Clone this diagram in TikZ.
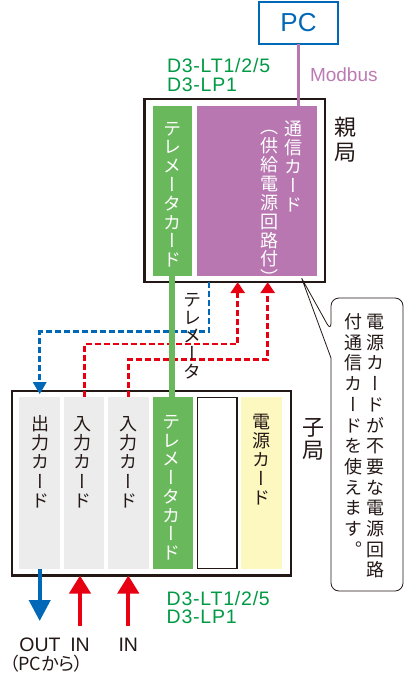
\documentclass[tikz,border=0pt]{standalone}
\usepackage{fontspec}
\setmainfont{Liberation Sans}
\newfontfamily\cjk[RawFeature=+palt]{Noto Sans CJK JP}
\newfontfamily\cjkv[RawFeature=+vert]{Noto Sans CJK JP}
\usetikzlibrary{arrows.meta}
\definecolor{blueC}{HTML}{0068B7}
\definecolor{redC}{HTML}{E60012}
\definecolor{greenC}{HTML}{6AB85C}
\definecolor{purpleC}{HTML}{B877B1}
\definecolor{modbusC}{HTML}{BB7AB4}
\definecolor{greyC}{HTML}{ECECEC}
\definecolor{yellowC}{HTML}{FDF7C0}
\definecolor{modelC}{HTML}{009944}
\definecolor{inkC}{HTML}{231815}
\newcommand\vfnt[2]{\cjkv\fontsize{#1}{#2}\selectfont}
\newcommand\st{\rule[-0.12em]{0pt}{1em}}
\tikzset{
  every node/.style={outer sep=0pt},
  vt/.style={align=center, inner sep=0pt, anchor=north},
  frame/.style={draw=inkC, line width=2.4, inner sep=0pt},
  cardP/.style={inner sep=0pt, minimum height=170},
  cardC/.style={inner sep=0pt, minimum width=40.5, minimum height=172.6},
  dashline/.style={line width=2.8, dash pattern=on 6pt off 3pt},
  model/.style={anchor=west, align=left, inner sep=0pt, text=modelC, font=\fontsize{19.5}{18.5}\selectfont\addfontfeature{LetterSpace=4}},
  lbl/.style={inner sep=0pt, text=inkC, font=\fontsize{19.5}{19.5}\selectfont},
}
\begin{document}
\begin{tikzpicture}[x=1pt,y=-1pt]
\useasboundingbox (0,0) rectangle (406,676);
% PC
\node[draw=blueC, line width=2.2, minimum width=79.5, minimum height=42.5, inner sep=0pt, text=blueC, font=\fontsize{26}{26}\selectfont] (pc) at (298.5,23) {PC};
\node[anchor=west, inner sep=0pt, text=modbusC, font=\fontsize{19}{19}\selectfont] (modbus) at (310,75) {Modbus};
\node[model] (modeltop) at (167,75) {D3-LT1/2/5\\D3-LP1};
% parent station
\node[frame, minimum width=180.3, minimum height=182.9] (parent) at (234.65,190.65) {};
\node[cardP, fill=greenC, minimum width=39.3] (ptele) at (172.3,191) {};
\node[cardP, fill=purpleC, minimum width=120.6] (comm) at (257,191) {};
\draw[purpleC, line width=3] (pc.south) -- (pc.south |- comm.north);
\node[vt, text=white, font=\vfnt{18}{18.8}] (pteletxt) at (172.5,119.3) {\st テ\\レ\\メ\\ー\\タ\\カ\\ー\\ド};
\node[vt, text=white, font=\vfnt{18}{19.2}] (commtxt) at (293,119.3) {\st 通\\信\\カ\\ー\\ド};
\node[vt, text=white, font=\vfnt{18}{18.9}] (commsub) at (269,117.8) {\st （\\供\\給\\電\\源\\回\\路\\付\\）};
\node[vt, text=inkC, font=\vfnt{22}{25}] (oya) at (345,115.7) {\st 親\\局};
% child station
\node[frame, minimum width=278.9, minimum height=184.3] (child) at (151.65,483.35) {};
\node[cardC, fill=greyC] (c1) at (39.7,483) {};
\node[cardC, fill=greyC] (c2) at (84.2,483) {};
\node[cardC, fill=greyC] (c3) at (128.5,483) {};
\node[cardC, fill=greenC] (c4) at (172.8,483) {};
\node[draw=inkC, line width=1.3, fill=white, inner sep=0pt, minimum width=39.7, minimum height=171.3] (c5) at (217.2,483) {};
\node[cardC, fill=yellowC] (c6) at (261.7,483) {};
\node[vt, text=inkC, font=\vfnt{18}{19.3}] (c1t) at (40,414.3) {\st 出\\力\\カ\\ー\\ド};
\node[vt, text=inkC, font=\vfnt{18}{19.3}] (c2t) at (82,414.3) {\st 入\\力\\カ\\ー\\ド};
\node[vt, text=inkC, font=\vfnt{18}{19.3}] (c3t) at (128.3,414.3) {\st 入\\力\\カ\\ー\\ド};
\node[vt, text=white, font=\vfnt{18}{18.7}] (c4t) at (171.7,412.7) {\st テ\\レ\\メ\\ー\\タ\\カ\\ー\\ド};
\node[vt, text=inkC, font=\vfnt{18}{19}] (c6t) at (261.7,412.7) {\st 電\\源\\カ\\ー\\ド};
\node[vt, text=inkC, font=\vfnt{22}{23}] (ko) at (313,416) {\st 子\\局};
% dashed signal lines
\coordinate (btap) at (209,331.7);
\coordinate (r1) at (237.7,344);
\coordinate (r2) at (267.7,359.3);
\draw[blueC, dashline, -{Triangle[width=13,length=12]}, shorten >=2.5pt] (btap |- parent.south) -- (btap) -| (c1.north);
\draw[redC, dashline, -{Triangle[width=14,length=11]}] (c2.north) |- (r1) -- (r1 |- parent.south);
\draw[redC, dashline, -{Triangle[width=14,length=11]}] (c3.north) |- (r2) -- (r2 |- parent.south);
% telemeter link
\draw[greenC, line width=6] (ptele.south) -- (ptele.south |- c4.north);
\node[vt, text=inkC, font=\vfnt{18}{18}] (telelbl) at (192.7,291) {\st テ\\レ\\メ\\ー\\タ};
% callout
\coordinate (apex) at (301.7,278.3);
\draw[inkC, line width=0.8] (apex) -- (331,358) [rounded corners=8] -- (331,591) -- (403,591) -- (403,298) -- (331,298) -- (331,331) [sharp corners] -- cycle;
\node[vt, text=inkC, font=\vfnt{18}{20.7}] (noteR) at (375,312.7) {\st 電\\源\\カ\\ー\\ド\\が\\不\\要\\な\\電\\源\\回\\路};
\node[vt, text=inkC, font=\vfnt{18}{20.7}] (noteL) at (353.3,312.7) {\st 付\\通\\信\\カ\\ー\\ド\\を\\使\\え\\ま\\す\\。};
% bottom IO arrows
\coordinate (outend) at (39.7,621);
\coordinate (in1) at (80,626);
\coordinate (in2) at (128.3,626);
\draw[blueC, line width=4, -{Triangle[width=21,length=21]}] (c1.south) -- (outend);
\draw[redC, line width=4, -{Triangle[width=21,length=18]}] (in1) -- (in1 |- child.south);
\draw[redC, line width=4, -{Triangle[width=21,length=18]}] (in2) -- (in2 |- child.south);
\node[lbl] (outl) at (40,645) {OUT};
\node[lbl] (in1l) at (80,645) {IN};
\node[lbl] (in2l) at (128.3,645) {IN};
\node[anchor=west, inner sep=0pt, text=inkC, font=\cjk\fontsize{18}{18}\selectfont] (pcfrom) at (9.5,664) {（PCから）};
\node[model] (modelbot) at (166.7,607.5) {D3-LT1/2/5\\D3-LP1};
\end{tikzpicture}
\end{document}
